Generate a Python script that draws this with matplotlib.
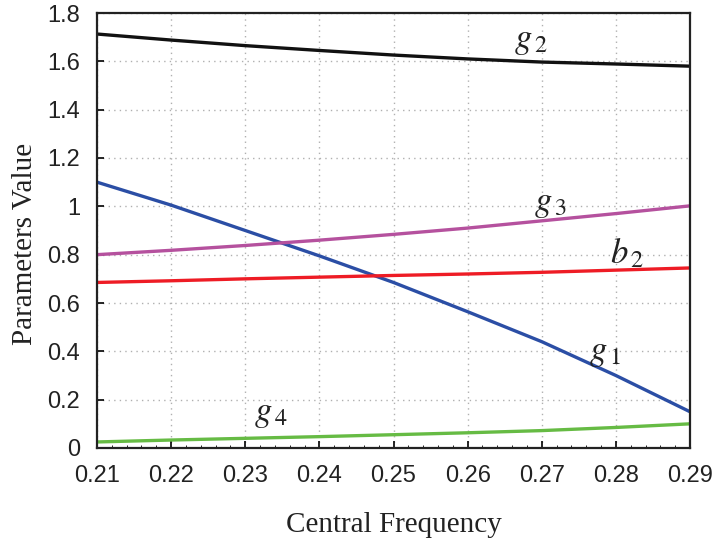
import matplotlib
matplotlib.use("Agg")
import matplotlib.pyplot as plt
from matplotlib.ticker import MultipleLocator

freq = [0.21, 0.22, 0.23, 0.24, 0.25, 0.26, 0.27, 0.28, 0.29]
g1 = [1.10, 1.005, 0.90, 0.795, 0.685, 0.564, 0.44, 0.30, 0.15]
g2 = [1.713, 1.688, 1.665, 1.645, 1.626, 1.610, 1.597, 1.589, 1.580]
g3 = [0.80, 0.818, 0.838, 0.860, 0.884, 0.910, 0.940, 0.970, 1.002]
g4 = [0.025, 0.033, 0.040, 0.047, 0.055, 0.063, 0.072, 0.085, 0.100]
b2 = [0.685, 0.692, 0.700, 0.707, 0.714, 0.720, 0.727, 0.736, 0.745]

xticks = [0.21, 0.22, 0.23, 0.24, 0.25, 0.26, 0.27, 0.28, 0.29]
xticklabels = ["0.21", "0.22", "0.23", "0.24", "0.25", "0.26", "0.27", "0.28", "0.29"]
yticks = [0, 0.2, 0.4, 0.6, 0.8, 1.0, 1.2, 1.4, 1.6, 1.8]
yticklabels = ["0", "0.2", "0.4", "0.6", "0.8", "1", "1.2", "1.4", "1.6", "1.8"]

plt.rcParams['mathtext.fontset'] = 'stix'

fig = plt.figure(figsize=(7.15, 5.42), dpi=100)
ax = fig.add_axes([97/715, 1 - 448/542, (690-97)/715, (448-13)/542])

lw = 2.4
ax.plot(freq, g2, color="#111111", lw=lw)
ax.plot(freq, g1, color="#2b4ea5", lw=lw)
ax.plot(freq, g3, color="#b5519e", lw=lw)
ax.plot(freq, b2, color="#ee1c25", lw=lw)
ax.plot(freq, g4, color="#66bb44", lw=lw)

ax.set_xlim(0.21, 0.29)
ax.set_ylim(0, 1.8)
ax.set_xticks(xticks)
ax.set_xticklabels(xticklabels, fontfamily="Liberation Sans", fontsize=17, color="#222222")
ax.set_yticks(yticks)
ax.set_yticklabels(yticklabels, fontfamily="Liberation Sans", fontsize=17, color="#222222")
ax.xaxis.set_minor_locator(MultipleLocator(0.002))
ax.tick_params(axis='x', which='major', direction='in', length=5, width=1.2, pad=12)
ax.tick_params(axis='y', which='major', direction='in', length=5, width=1.2, pad=12)
ax.tick_params(axis='x', which='minor', direction='in', length=2, width=0.6)
ax.tick_params(top=False, right=False)
ax.grid(True, which='major', linestyle=(0, (1, 3)), color="#b0b0b0", lw=1.0)

for s in ax.spines.values():
    s.set_linewidth(1.6)
    s.set_color("#222222")

ax.set_xlabel("Central Frequency", fontfamily="Liberation Serif", fontsize=21, labelpad=18, color="#222222")
ax.set_ylabel("Parameters Value", fontfamily="Liberation Serif", fontsize=21, color="#222222")
ax.yaxis.set_label_coords(-0.100, 0.47)

lab_kw = dict(fontsize=25, ha='center', va='center', color="#222222")
ax.text(0.2685, 1.69, r"$g_{\,2}$", **lab_kw)
ax.text(0.2712, 1.013, r"$g_{\,3}$", **lab_kw)
ax.text(0.2815, 0.805, r"$b_{\,2}$", **lab_kw)
ax.text(0.2785, 0.397, r"$g_{\,1}$", **lab_kw)
ax.text(0.2335, 0.145, r"$g_{\,4}$", **lab_kw)

fig.savefig("out.png", dpi=100)
